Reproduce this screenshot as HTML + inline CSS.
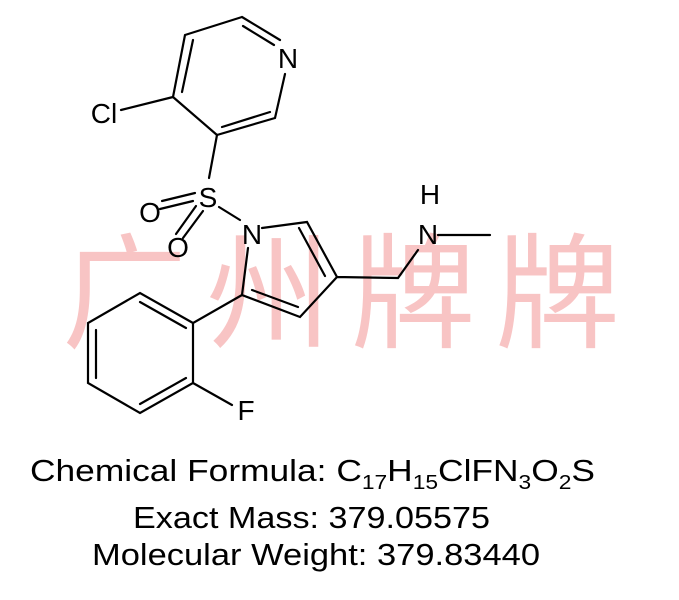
<!DOCTYPE html><html><head><style>body{margin:0;background:#fff}svg{display:block}</style></head><body>
<svg width="679" height="600" viewBox="0 0 679 600" font-family="Liberation Sans, Arial, sans-serif">
<text x="62" y="338" font-size="125" fill="#f8c4c4" font-family="Noto Sans CJK SC, sans-serif" textLength="558" lengthAdjust="spacing">广州牌牌</text>
<g stroke="#000" stroke-width="2.2" fill="none" stroke-linecap="round">
<path d="M242 17 L280 40 M243 26 L274 45 M185 35 L242 17 M185 35 L173 97 M193 40 L182 92 M173 97 L217 135 M217 135 L275 118 M222 127 L270 112 M275 118 L285 74 M121 110 L173 97"/>
<path d="M217 135 L209 178 M219 207 L240 220 M193 201 L160 209 M195 193 L162 201 M196 206 L176 234 M203 211 L183 238"/>
<path d="M262 228 L307 222 L337 277 M299 228 L325 276 M337 277 L300 317 L242 295 L248 248 M298 307 L252 290 M337 277 L398 278 L418 250 M438 235 L490 235"/>
<path d="M242 295 L193 323 L193 383 L140 413 L88 383 L88 323 L140 293 L193 323 M186 378 L140 404 M96 330 L96 378 M140 302 L186 328 M193 383 L232 405"/>
</g>
<g font-size="28" fill="#000" text-anchor="middle">
<text x="288" y="68">N</text><text x="104" y="123">Cl</text><text x="208" y="207">S</text>
<text x="150" y="222">O</text><text x="178" y="257">O</text><text x="252" y="244">N</text>
<text x="430" y="204">H</text><text x="428" y="244">N</text><text x="246" y="420">F</text>
</g>
<g font-size="31" fill="#000">
<text x="30" y="481" textLength="565" lengthAdjust="spacingAndGlyphs">Chemical Formula: C<tspan font-size="20" dy="8">17</tspan><tspan dy="-8">H</tspan><tspan font-size="20" dy="8">15</tspan><tspan dy="-8">ClFN</tspan><tspan font-size="20" dy="8">3</tspan><tspan dy="-8">O</tspan><tspan font-size="20" dy="8">2</tspan><tspan dy="-8">S</tspan></text>
<text x="133" y="528" textLength="357" lengthAdjust="spacingAndGlyphs">Exact Mass: 379.05575</text>
<text x="92" y="565" textLength="448" lengthAdjust="spacingAndGlyphs">Molecular Weight: 379.83440</text>
</g>
</svg></body></html>
